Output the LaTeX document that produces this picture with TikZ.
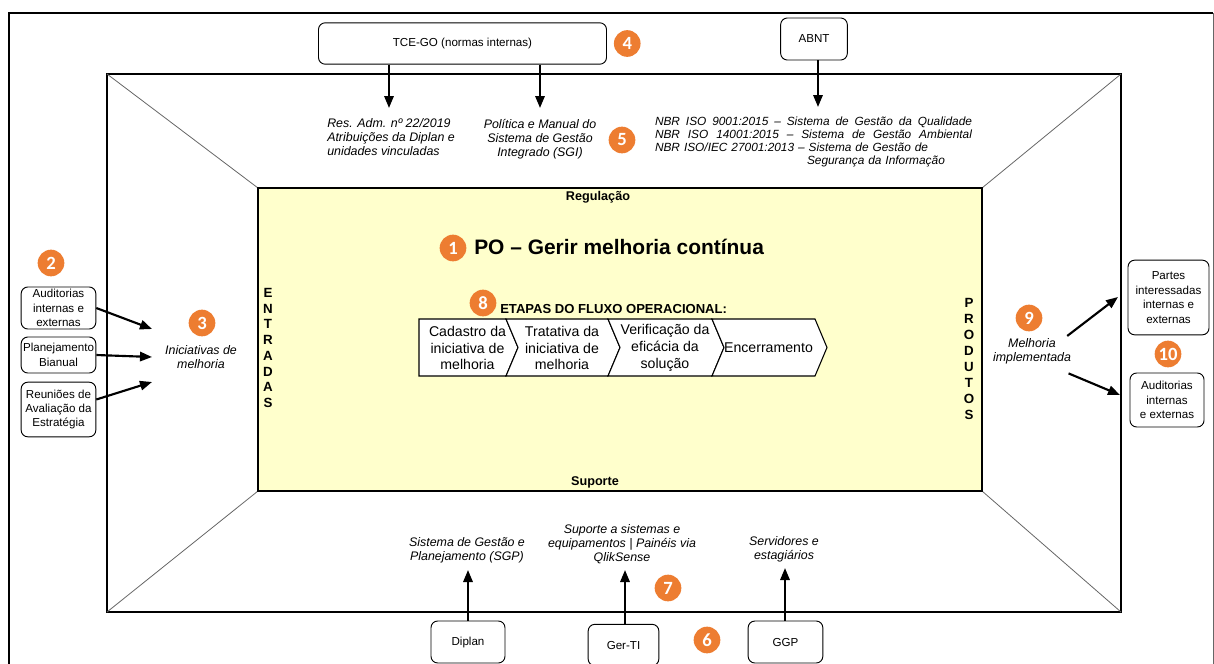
\documentclass[tikz,border=0pt]{standalone}
\usepackage{fontspec}
\setmainfont{Liberation Sans}
\newfontfamily\badgefont{Carlito}
\usetikzlibrary{positioning, arrows.meta}
\definecolor{badgeorange}{HTML}{ED7D31}
\definecolor{poyellow}{HTML}{FFFFCC}

\begin{document}
\begin{tikzpicture}[x=0.75pt,y=-0.75pt,
    frame/.style={line width=2.2pt},
    diag/.style={draw=black!60, line width=0.6pt},
    srcbox/.style={draw, rounded corners=5pt, line width=0.7pt, align=center, inner sep=1pt, font=\fontsize{8.7}{10.8}\selectfont},
    note/.style={align=center, inner sep=0pt, font=\itshape\fontsize{9.3}{10.5}\selectfont},
    badge/.style={circle, fill=badgeorange, text=white, minimum size=20pt, inner sep=0pt, font=\badgefont\bfseries\fontsize{14}{14}\selectfont},
    flow/.style={-{Triangle[length=9pt,width=7pt]}, line width=1.6pt},
    heading/.style={inner sep=0pt, font=\bfseries\fontsize{9.5}{11}\selectfont},
    vertword/.style={align=center, inner sep=0pt, font=\bfseries\fontsize{10}{11.8}\selectfont},
    stagetext/.style={align=center, inner sep=0pt, font=\fontsize{10.6}{12.5}\selectfont}]

\useasboundingbox (0,0) rectangle (1214,664);

% moldura externa
\draw[frame] (9,680) -- (9,13) -- (1213,13);
\draw[diag] (1213,13) -- (1213,680);

% quadro do processo
\draw[frame] (107,74) rectangle (1121,612);
\draw[diag] (107,74) -- (258,188);
\draw[diag] (1121,74) -- (982,188);
\draw[diag] (107,612) -- (258,491);
\draw[diag] (1121,612) -- (982,491);
\draw[fill=poyellow, line width=1pt] (258,188) rectangle (982,491);

% regulacao
\node[srcbox, minimum width=216pt, minimum height=31pt] (tce) at (462.5,43.5) {TCE-GO (normas internas)};
\node[badge, right=5pt of tce] (b4) {4};
\node[srcbox, minimum width=50pt, minimum height=31.5pt] (abnt) at (814,39) {ABNT};

\coordinate (resTip) at (389,108);
\coordinate (sgiTip) at (540,108);
\coordinate (nbrTip) at (818,107);
\draw[flow] (tce.south -| resTip) -- (resTip);
\draw[flow] (tce.south -| sgiTip) -- (sgiTip);
\draw[flow] (abnt.south -| nbrTip) -- (nbrTip);

\node[note, align=left, anchor=west] (resadm) at (327,137) {Res. Adm. nº 22/2019\\Atribuições da Diplan e\\unidades vinculadas};
\node[note] (sgi) at (540,139) {Política e Manual do\\Sistema de Gestão\\Integrado (SGI)};
\node[note, align=left, text width=237.75pt, font=\itshape\fontsize{8.9}{9.75}\selectfont] (nbr) at (813.5,141.5)
  {\makebox[237.75pt][s]{NBR\hfil ISO\hfil 9001:2015\hfil –\hfil Sistema\hfil de\hfil Gestão\hfil da\hfil Qualidade}\\
   \makebox[237.75pt][s]{NBR\hfil ISO\hfil 14001:2015\hfil –\hfil Sistema\hfil de\hfil Gestão\hfil Ambiental}\\
   NBR ISO/IEC 27001:2013 – Sistema de Gestão de\\
   \hspace*{114pt}Segurança da Informação};

% processo
\node[heading] (regulacao) at (598,197) {Regulação};
\node[heading] (suporte) at (595,482) {Suporte};
\node[inner sep=0pt, anchor=west, font=\bfseries\fontsize{15.7}{18}\selectfont] (title) at (474,247) {PO – Gerir melhoria contínua};
\node[inner sep=0pt, anchor=west, font=\bfseries\fontsize{9.8}{11}\selectfont] (etapas) at (500,309) {ETAPAS DO FLUXO OPERACIONAL:};

\foreach \l/\r/\txt [count=\i] in {419/506/{Cadastro da\\iniciativa de\\melhoria}, 506/608/{Tratativa da\\iniciativa de\\melhoria}, 608/712/{Verificação da\\eficácia da\\solução}, 712/815/{Encerramento}}
{
  \pgfmathsetmacro{\notch}{\i==1 ? 0 : 12}
  \draw[fill=white, line width=0.8pt] (\l,319) -- (\r,319) -- (\r+12,347.5) -- (\r,376) -- (\l,376) -- (\l+\notch,347.5) -- cycle;
  \node[stagetext] (stage\i) at ({(\l+\r)/2+5},348) {\txt};
}

\node[vertword] (entradas) at (268,348) {E\\N\\T\\R\\A\\D\\A\\S};
\node[vertword, font=\bfseries\fontsize{10}{12}\selectfont] (produtos) at (969,359) {P\\R\\O\\D\\U\\T\\O\\S};

% entradas
\node[srcbox, minimum width=56pt, minimum height=31.5pt] (audin) at (58.5,308) {Auditorias\\internas e\\externas};
\node[srcbox, minimum width=56pt, minimum height=27pt] (bianual) at (58.5,355) {Planejamento\\Bianual};
\node[srcbox, minimum width=56pt, minimum height=41pt] (reunioes) at (58.5,409.5) {Reuniões de\\Avaliação da\\Estratégia};
\node[note] (iniciativas) at (201,357.5) {Iniciativas de\\melhoria};

\coordinate (iniA) at (152,329);
\coordinate (iniB) at (152,357);
\coordinate (iniC) at (152,382);
\draw[flow] (audin.east) -- (iniA);
\draw[flow] (bianual.east) -- (iniB);
\draw[flow] ([yshift=7.5pt]reunioes.east) -- (iniC);

% produtos
\node[note] (implementada) at (1032,351) {Melhoria\\implementada};
\node[srcbox, minimum width=60.75pt, minimum height=56pt] (partes) at (1168.5,297.5) {Partes\\interessadas\\internas e\\externas};
\node[srcbox, minimum width=55.5pt, minimum height=40.5pt] (audout) at (1167,400) {Auditorias\\internas\\e externas};

\coordinate (prodA) at (1118,297);
\coordinate (prodB) at (1120,395);
\draw[flow] ([xshift=-3pt,yshift=1.5pt]implementada.north east) -- (prodA);
\draw[flow] ([xshift=-2pt,yshift=-7pt]implementada.south east) -- (prodB);

% suporte
\node[srcbox, minimum width=55.5pt, minimum height=31.5pt] (diplan) at (468,642) {Diplan};
\node[srcbox, minimum width=53pt, minimum height=31pt] (gerti) at (623.5,645) {Ger-TI};
\node[srcbox, minimum width=56pt, minimum height=31.5pt] (ggp) at (785.5,642) {GGP};

\node[note] (sgp) at (467,550) {Sistema de Gestão e\\Planejamento (SGP)};
\node[note] (tisup) at (622,544) {Suporte a sistemas e\\equipamentos | Painéis via\\QlikSense};
\node[note] (pessoas) at (784,549) {Servidores e\\estagiários};

\coordinate (sgpTip) at (468,570);
\coordinate (tiTip) at (625,570);
\coordinate (ggpTip) at (785,568);
\draw[flow] (diplan.north) -- (diplan.north |- sgpTip);
\draw[flow] (gerti.north -| tiTip) -- (tiTip);
\draw[flow] (ggp.north -| ggpTip) -- (ggpTip);

% marcadores
\foreach \num/\bx/\by in {1/453/248, 2/51/263, 3/202/323, 5/622/140, 6/707/640, 7/668/588, 8/483/303, 9/1029/318, 10/1168/354}
  \node[badge] (b\num) at (\bx,\by) {\num};

\end{tikzpicture}
\end{document}
